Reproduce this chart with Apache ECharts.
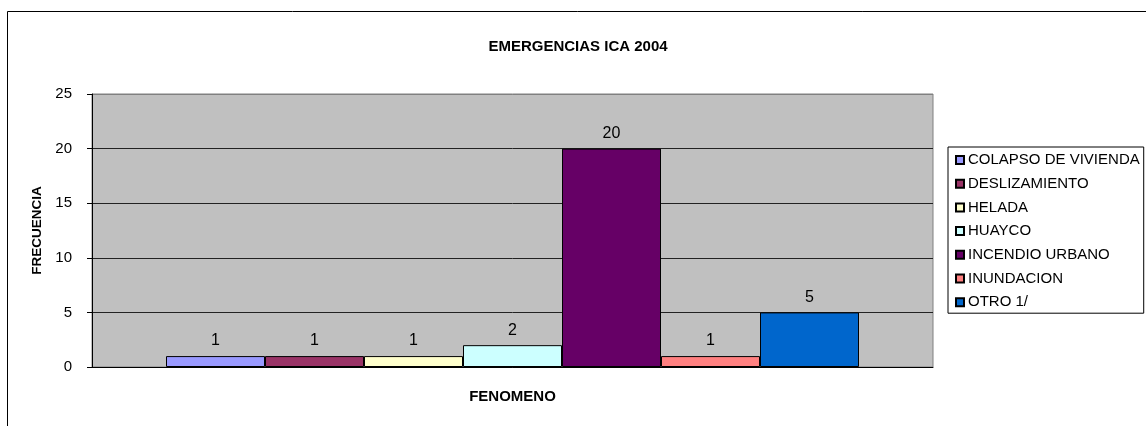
<!DOCTYPE html>
<html>
<head>
<meta charset="utf-8">
<script src="https://cdn.jsdelivr.net/npm/echarts@6/dist/echarts.min.js"></script>
<style>
  html, body { margin: 0; padding: 0; background: #fff; }
  #main { width: 1146px; height: 426px; }
</style>
</head>
<body>
<div id="main"></div>
<script>
const font = 'Liberation Sans, Arial, sans-serif'

// datos
const categories = ['COLAPSO DE VIVIENDA', 'DESLIZAMIENTO', 'HELADA', 'HUAYCO', 'INCENDIO URBANO', 'INUNDACION', 'OTRO 1/']
const values = [1, 1, 1, 2, 20, 1, 5]
const colors = ['#9999FF', '#993366', '#FFFFCC', '#CCFFFF', '#660066', '#FF8080', '#0066CC']
const yTicks = [0, 5, 10, 15, 20, 25]

const myChart = echarts.init(document.getElementById('main'))

const series = categories.map((name, i) => ({
  name: name,
  type: 'bar',
  data: [values[i]],
  barWidth: 99,
  barGap: '0%',
  itemStyle: {
    color: colors[i],
    borderColor: '#000',
    borderWidth: 1
  },
  label: {
    show: true,
    position: 'top',
    distance: 7,
    color: '#000',
    fontFamily: font,
    fontSize: 16
  }
}))

myChart.setOption({
  animation: false,
  title: {
    text: 'EMERGENCIAS ICA 2004',
    left: 573,
    top: 34,
    textAlign: 'center',
    textStyle: { fontFamily: font, fontSize: 15, fontWeight: 'bold', color: '#000' }
  },
  graphic: [{
    type: 'rect',
    shape: { x: 7.5, y: 11.5, width: 1200, height: 500 },
    style: { fill: 'none', stroke: '#000', lineWidth: 1 },
    z: -10
  }],
  legend: {
    orient: 'vertical',
    left: 948,
    top: 147,
    padding: [5, 4, 3, 7],
    itemWidth: 8,
    itemHeight: 8,
    itemGap: 7.7,
    borderColor: '#000',
    borderWidth: 1,
    icon: 'rect',
    data: categories,
    textStyle: { fontFamily: font, fontSize: 15, lineHeight: 16, color: '#000', padding: [0, 0, 0, -1] }
  },
  grid: {
    left: 92,
    top: 94,
    right: 213,
    bottom: 59,
    show: true,
    backgroundColor: '#C0C0C0',
    borderColor: '#808080',
    borderWidth: 1
  },
  xAxis: {
    type: 'category',
    data: [''],
    name: 'FENOMENO',
    nameLocation: 'middle',
    nameGap: 22,
    nameTextStyle: { fontFamily: font, fontSize: 15, fontWeight: 'bold', color: '#000' },
    axisLine: { lineStyle: { color: '#000' } },
    axisTick: { show: false },
    axisLabel: { show: false }
  },
  yAxis: {
    type: 'value',
    min: yTicks[0],
    max: yTicks[yTicks.length - 1],
    interval: 5,
    name: 'FRECUENCIA',
    nameLocation: 'middle',
    nameGap: 39,
    nameTextStyle: { fontFamily: font, fontSize: 13.5, fontWeight: 'bold', color: '#000' },
    axisLine: { show: true, lineStyle: { color: '#000' } },
    axisTick: { show: true, length: 5, lineStyle: { color: '#000' } },
    axisLabel: { margin: 20, fontFamily: font, fontSize: 15, color: '#000' },
    splitLine: { lineStyle: { color: ['#222', '#222', '#222', '#222', '#222', '#808080'] } }
  },
  series: series
})
</script>
</body>
</html>
